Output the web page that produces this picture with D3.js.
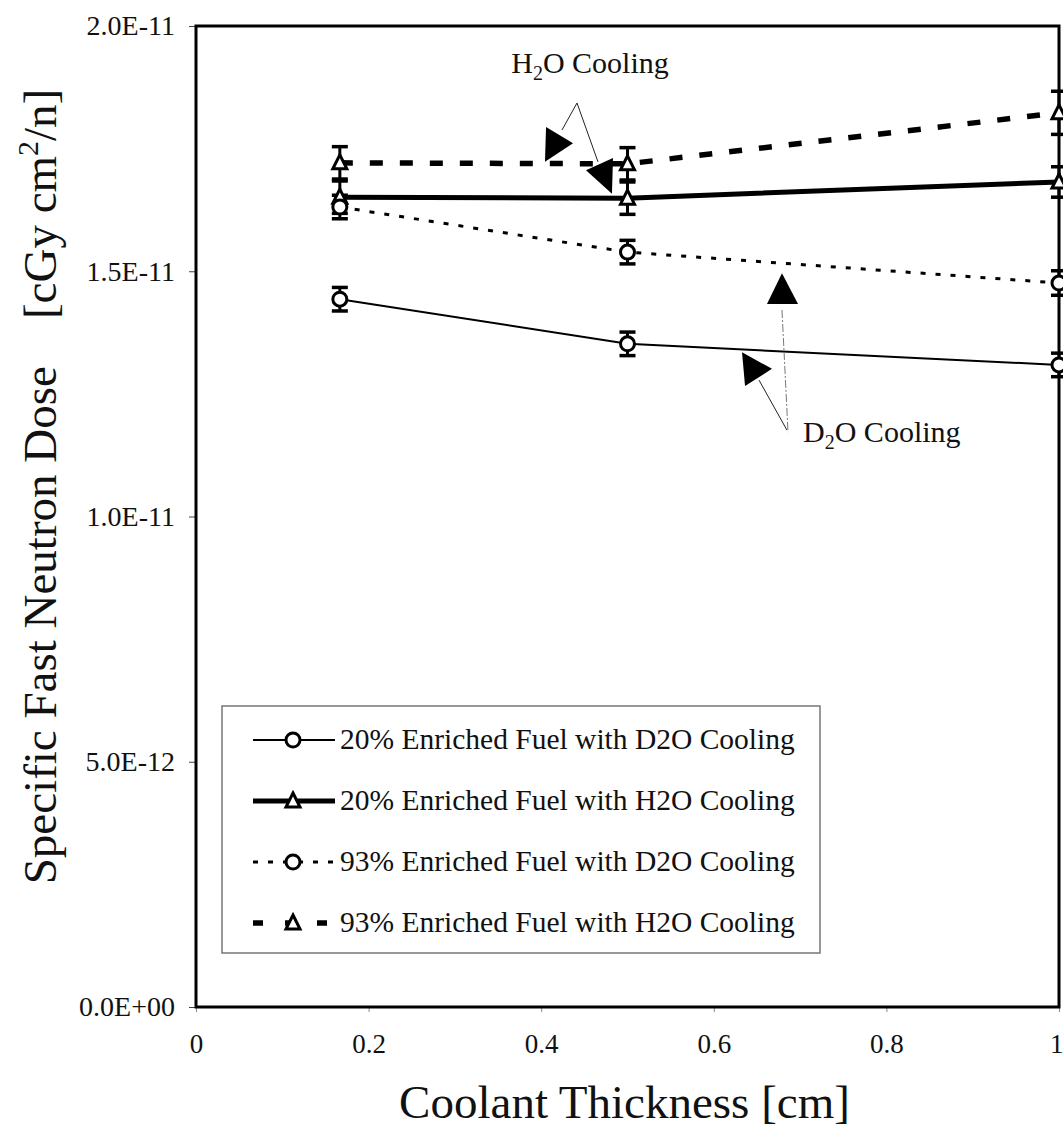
<!DOCTYPE html>
<html>
<head>
<meta charset="utf-8">
<script src="https://cdn.jsdelivr.net/npm/d3@7"></script>
<style>
  html, body { margin: 0; padding: 0; background: #fff; }
  svg { display: block; }
  text { font-family: "Liberation Serif", "Times New Roman", serif; fill: #111; }
</style>
</head>
<body>
<svg id="chart" width="1063" height="1141"></svg>
<script>
// Coolant thickness [cm]
const thickness = [1 / 6, 0.5, 1.0];

// Specific fast neutron dose [cGy cm^2/n]
const dose20D2O = [1.443e-11, 1.352e-11, 1.309e-11];
const dose20H2O = [1.651e-11, 1.649e-11, 1.682e-11];
const dose93D2O = [1.631e-11, 1.539e-11, 1.476e-11];
const dose93H2O = [1.721e-11, 1.719e-11, 1.823e-11];

// One-sigma uncertainties
const err20D2O = [2.4e-13, 2.4e-13, 2.4e-13];
const err20H2O = [3.3e-13, 3.3e-13, 3.1e-13];
const err93D2O = [2.4e-13, 2.4e-13, 2.5e-13];
const err93H2O = [3.3e-13, 3.3e-13, 4.4e-13];

const seriesNames = [
  "20% Enriched Fuel with D2O Cooling",
  "20% Enriched Fuel with H2O Cooling",
  "93% Enriched Fuel with D2O Cooling",
  "93% Enriched Fuel with H2O Cooling"
];

const xTicks = [0, 0.2, 0.4, 0.6, 0.8, 1];
const xTickLabels = ["0", "0.2", "0.4", "0.6", "0.8", "1"];
const yTicks = [0, 5e-12, 1e-11, 1.5e-11, 2e-11];
const yTickLabels = ["0.0E+00", "5.0E-12", "1.0E-11", "1.5E-11", "2.0E-11"];

// ---- drawing -----------------------------------------------------------
const svg = d3.select("#chart");
svg.append("rect").attr("width", 1063).attr("height", 1141).attr("fill", "#fff");

const x = d3.scaleLinear().domain([0, 1]).range([196, 1059]);
const y = d3.scaleLinear().domain([0, 2e-11]).range([1007, 26]);

// series styling
const styles = [
  { vals: dose20D2O, err: err20D2O, width: 2,   dash: null,    marker: "circle" },
  { vals: dose20H2O, err: err20H2O, width: 5,   dash: null,    marker: "triangle" },
  { vals: dose93D2O, err: err93D2O, width: 3,   dash: "5,10",  marker: "circle" },
  { vals: dose93H2O, err: err93H2O, width: 5.5, dash: "13,17", marker: "triangle" }
];

// axes
const yAxis = d3.axisLeft(y)
  .tickValues(yTicks)
  .tickFormat((d, i) => yTickLabels[i])
  .tickSize(7).tickPadding(14);
const gy = svg.append("g").attr("transform", `translate(${x(0)},0)`).call(yAxis);
gy.select(".domain").remove();
gy.selectAll(".tick line").attr("stroke", "#444").attr("stroke-width", 1);
gy.selectAll(".tick text").attr("font-size", 28)
  .attr("font-family", "'Liberation Serif', serif").attr("fill", "#111");

const xAxis = d3.axisBottom(x)
  .tickValues(xTicks)
  .tickFormat((d, i) => xTickLabels[i])
  .tickSize(5).tickPadding(22);
const gx = svg.append("g").attr("transform", `translate(0,${y(0)})`).call(xAxis);
gx.select(".domain").remove();
gx.selectAll(".tick line").attr("stroke", "#888").attr("stroke-width", 1);
gx.selectAll(".tick text").attr("font-size", 27)
  .attr("font-family", "'Liberation Serif', serif").attr("fill", "#111");
// the last label sits against the right edge of the page
gx.selectAll(".tick text").filter(d => d === 1)
  .attr("text-anchor", "end").attr("dx", 4);

// plot frame
svg.append("rect")
  .attr("x", x(0)).attr("y", y(2e-11))
  .attr("width", x(1) - x(0)).attr("height", y(0) - y(2e-11))
  .attr("fill", "none").attr("stroke", "#000").attr("stroke-width", 3);

// axis titles
svg.append("text")
  .attr("x", (x(0) + x(1)) / 2 - 3).attr("y", 1118)
  .attr("text-anchor", "middle").attr("font-size", 47)
  .text("Coolant Thickness [cm]");

const yTitle = svg.append("text")
  .attr("transform", `translate(56,${(y(0) + y(2e-11)) / 2 - 30}) rotate(-90)`)
  .attr("text-anchor", "middle").attr("font-size", 47)
  .attr("xml:space", "preserve");
yTitle.append("tspan").text("Specific Fast Neutron Dose    [cGy cm");
yTitle.append("tspan").attr("font-size", 30).attr("dy", -18).text("2");
yTitle.append("tspan").attr("dy", 18).text("/n]");

// lines
const line = d3.line().x((d, i) => x(thickness[i])).y(d => y(d));
styles.forEach(s => {
  svg.append("path").datum(s.vals)
    .attr("d", line)
    .attr("fill", "none").attr("stroke", "#000")
    .attr("stroke-width", s.width)
    .attr("stroke-dasharray", s.dash);
});

// error bars
const cap = 8;
styles.forEach(s => {
  const g = svg.append("g").attr("stroke", "#000").attr("stroke-width", 3);
  s.vals.forEach((v, i) => {
    const cx = x(thickness[i]);
    const y1 = y(v + s.err[i]), y0 = y(v - s.err[i]);
    g.append("line").attr("x1", cx).attr("x2", cx).attr("y1", y1).attr("y2", y0);
    g.append("line").attr("x1", cx - cap).attr("x2", cx + cap).attr("y1", y1).attr("y2", y1).attr("stroke-width", 3.5);
    g.append("line").attr("x1", cx - cap).attr("x2", cx + cap).attr("y1", y0).attr("y2", y0).attr("stroke-width", 3.5);
  });
});

// markers
function drawMarker(g, type, cx, cy) {
  if (type === "circle") {
    g.append("circle").attr("cx", cx).attr("cy", cy).attr("r", 7)
      .attr("fill", "#fff").attr("stroke", "#000").attr("stroke-width", 3);
  } else {
    g.append("path")
      .attr("d", `M${cx},${cy - 8} L${cx + 7},${cy + 6} L${cx - 7},${cy + 6} Z`)
      .attr("fill", "#fff").attr("stroke", "#000").attr("stroke-width", 3)
      .attr("stroke-linejoin", "miter");
  }
}
styles.forEach(s => {
  const g = svg.append("g");
  s.vals.forEach((v, i) => drawMarker(g, s.marker, x(thickness[i]), y(v)));
});

// annotations (positions in data units)
function tri(pts) {
  return "M" + pts.map(p => `${x(p[0])},${y(p[1])}`).join("L") + "Z";
}
const ann = svg.append("g");
// H2O callout
ann.append("text")
  .attr("x", x(0.4566)).attr("y", y(1.904e-11))
  .attr("text-anchor", "middle").attr("font-size", 30)
  .call(t => {
    t.append("tspan").text("H");
    t.append("tspan").attr("font-size", 20).attr("dy", 7).text("2");
    t.append("tspan").attr("dy", -7).text("O Cooling");
  });
ann.append("line")
  .attr("x1", x(0.4415)).attr("y1", y(1.843e-11))
  .attr("x2", x(0.4241)).attr("y2", y(1.788e-11))
  .attr("stroke", "#222").attr("stroke-width", 1);
ann.append("line")
  .attr("x1", x(0.4415)).attr("y1", y(1.843e-11))
  .attr("x2", x(0.4658)).attr("y2", y(1.723e-11))
  .attr("stroke", "#222").attr("stroke-width", 1);
ann.append("path").attr("d", tri([[0.4056, 1.794e-11], [0.4369, 1.761e-11], [0.4044, 1.723e-11]])).attr("fill", "#000");
ann.append("path").attr("d", tri([[0.4519, 1.706e-11], [0.4832, 1.731e-11], [0.4820, 1.658e-11]])).attr("fill", "#000");

// D2O callout
ann.append("text")
  .attr("x", x(0.7034)).attr("y", y(1.152e-11))
  .attr("font-size", 30)
  .call(t => {
    t.append("tspan").text("D");
    t.append("tspan").attr("font-size", 20).attr("dy", 7).text("2");
    t.append("tspan").attr("dy", -7).text("O Cooling");
  });
ann.append("line")
  .attr("x1", x(0.6790)).attr("y1", y(1.421e-11))
  .attr("x2", x(0.6860)).attr("y2", y(1.172e-11))
  .attr("stroke", "#777").attr("stroke-width", 1).attr("stroke-dasharray", "8,2,2,2");
ann.append("line")
  .attr("x1", x(0.6524)).attr("y1", y(1.278e-11))
  .attr("x2", x(0.6848)).attr("y2", y(1.176e-11))
  .attr("stroke", "#222").attr("stroke-width", 1);
ann.append("path").attr("d", tri([[0.6790, 1.496e-11], [0.6616, 1.433e-11], [0.6976, 1.433e-11]])).attr("fill", "#000");
ann.append("path").attr("d", tri([[0.6327, 1.335e-11], [0.6674, 1.301e-11], [0.6362, 1.266e-11]])).attr("fill", "#000");

// legend
const lg = svg.append("g");
lg.append("rect").attr("x", 222).attr("y", 706).attr("width", 598).attr("height", 247)
  .attr("fill", "#fff").attr("stroke", "#777").attr("stroke-width", 1.5);
const legendDash = [null, null, "5,10", "10,22"];
styles.forEach((s, i) => {
  const ly = 740 + i * 61;
  const row = lg.append("g");
  row.append("line").attr("x1", 253).attr("x2", 335).attr("y1", ly).attr("y2", ly)
    .attr("stroke", "#000").attr("stroke-width", s.width)
    .attr("stroke-dasharray", legendDash[i]);
  drawMarker(row, s.marker, 293, ly);
  row.append("text").attr("x", 340).attr("y", ly + 9)
    .attr("font-size", 29.5).text(seriesNames[i]);
});
</script>
</body>
</html>
